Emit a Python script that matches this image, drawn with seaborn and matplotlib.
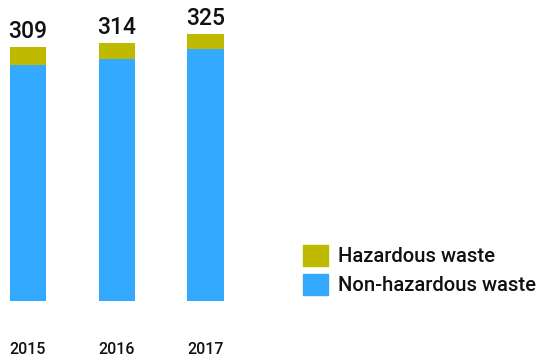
import matplotlib
matplotlib.use("Agg")
import matplotlib.pyplot as plt
import matplotlib.patches as mpatches
import pandas as pd
import seaborn as sns

years = ["2015", "2016", "2017"]
non_hazardous = [287, 294, 307]
hazardous = [22, 20, 18]
totals = [n + h for n, h in zip(non_hazardous, hazardous)]

color_haz = "#BDBA00"
color_non = "#33AAFF"

sns.set_theme(style="white")
plt.rcParams["font.family"] = ["Roboto", "DejaVu Sans"]

df = pd.DataFrame({"year": years, "non": non_hazardous, "haz": hazardous, "total": totals})

fig = plt.figure(figsize=(5.42, 3.6), dpi=100)
ax = fig.add_axes([0, (360 - 300.7) / 360, 240 / 542, 300.7 / 360])

bar_w = 0.406
# total height in the hazardous colour, non-hazardous part drawn over it
sns.barplot(data=df, x="year", y="total", color=color_haz, width=bar_w,
            saturation=1, linewidth=0, ax=ax)
sns.barplot(data=df, x="year", y="non", color=color_non, width=bar_w,
            saturation=1, linewidth=0, ax=ax)

ax.set_xlim(-28 / 88.75, (240 - 28) / 88.75)
ax.set_ylim(0, 300.7 / 0.821)

for i, t in enumerate(totals):
    ax.annotate(str(t), (i, t), xytext=(0, 6.5), textcoords="offset points",
                ha="center", va="baseline", fontsize=16.5, fontweight="medium",
                color="#111111")

ax.set_xlabel("")
ax.set_ylabel("")
ax.set_yticks([])
ax.tick_params(axis="x", length=0, pad=29.5, labelsize=11.5, colors="#111111")
for lbl in ax.get_xticklabels():
    lbl.set_fontweight("medium")
for s in ax.spines.values():
    s.set_visible(False)

fs = 14.6
px = fs * 100 / 72
handles = [mpatches.Patch(color=color_haz, label="Hazardous waste"),
           mpatches.Patch(color=color_non, label="Non-hazardous waste")]
fig.legend(handles=handles, loc="upper left", bbox_to_anchor=(303 / 542, 1 - 245 / 360),
           frameon=False, prop={"size": fs, "weight": "medium"},
           handlelength=25 / px, handleheight=24 / px,
           labelspacing=8 / px, handletextpad=10 / px, borderpad=0, borderaxespad=0,
           labelcolor="#111111")

fig.savefig("out.png", dpi=100)
